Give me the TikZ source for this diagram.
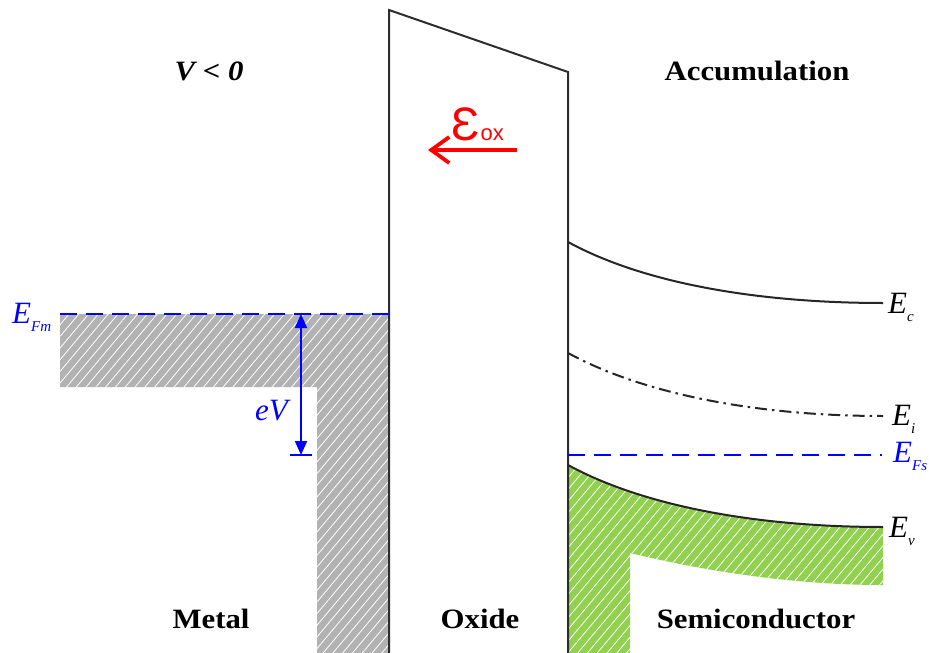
\documentclass[tikz,border=0pt]{standalone}
\usepackage{fontspec}
\setmainfont{Liberation Serif}
\newfontfamily\arialf{Liberation Sans}
\newfontfamily\titlef[FakeStretch=1.1]{Liberation Serif}
\usetikzlibrary{arrows.meta,patterns.meta}
\definecolor{metalgray}{RGB}{178,178,178}
\definecolor{semigreen}{RGB}{146,208,80}
\definecolor{oxline}{RGB}{45,45,45}
\newcommand\ELab[2]{#1\raisebox{-0.28em}{\fontsize{15}{15}\selectfont #2}}
\begin{document}
\begin{tikzpicture}[x=1pt,y=-1pt,
 title/.style={font=\titlef\bfseries\fontsize{28}{28}\selectfont, anchor=base, inner sep=0},
 elab/.style={anchor=base west, inner sep=0, font=\fontsize{31}{31}\selectfont\itshape},
 band/.style={line width=2pt, black!85},
 oxwall/.style={line width=2pt, oxline},
 hatch/.style={pattern={Lines[angle=50,distance=7.5pt,line width=0.8pt]}, pattern color=white},
 fermi/.style={blue, line width=2pt, dash pattern=on 17pt off 9pt},
]
\useasboundingbox (0,0) rectangle (929,653);
% coordinates
\coordinate (oxTL) at (389,10);
\coordinate (oxTR) at (568,72);
\coordinate (oxBL) at (389,653);
\coordinate (oxBR) at (568,653);
% metal region
\def\metalpath{(60,314) -- (389,314) -- (389,653) -- (317,653) -- (317,387) -- (60,387) -- cycle}
\fill[metalgray] \metalpath;
\fill[hatch] \metalpath;
% semiconductor valence region
\def\semipath{(568,465) .. controls (645,507) and (760,527) .. (883,527) -- (883,585) .. controls (790,585) and (700,570) .. (630,553) -- (630,653) -- (568,653) -- cycle}
\fill[semigreen] \semipath;
\fill[hatch] \semipath;
% oxide
\draw[oxwall] (oxBL) -- (oxTL) -- (oxTR) -- (oxBR);
% bands
\coordinate (ecA) at (568,242); \coordinate (ecB) at (883,303);
\coordinate (eiA) at (568,353); \coordinate (eiB) at (883,416);
\coordinate (evA) at (568,465); \coordinate (evB) at (883,527);
\draw[band] (ecA) .. controls (645,284) and (760,303) .. (ecB);
\draw[band, dash pattern=on 12pt off 5pt on 2.5pt off 5pt] (eiA) .. controls (645,395) and (760,416) .. (eiB);
\draw[band] (evA) .. controls (645,507) and (760,527) .. (evB);
% Fermi levels
\coordinate (efmA) at (60,314); \coordinate (efmB) at (389,314);
\coordinate (efsA) at (568,455); \coordinate (efsB) at (882,455);
\draw[fermi] (efmA) -- (efmB);
\draw[fermi] (efsA) -- (efsB);
% eV arrow
\coordinate (evTop) at (301,314);
\coordinate (evBot) at (301,455);
\coordinate (tickL) at (290,455);
\coordinate (tickR) at (312,455);
\draw[blue, line width=2pt, {Triangle[length=14pt,width=12pt]}-{Triangle[length=14pt,width=12pt]}] (evTop) -- (evBot);
\draw[blue, line width=2pt] (tickL) -- (tickR);
\node[elab, blue] (eV) at (255,420) {eV};
% field arrow
\coordinate (fA) at (517,150);
\coordinate (fB) at (428,150);
\draw[red, line width=3.8pt, -{Straight Barb[length=18pt,width=26pt]}] (fA) -- (fB);
\node[red, anchor=base west, inner sep=0, font=\arialf] (eox) at (451,140) {\fontsize{47}{47}\selectfont Ɛ\kern1pt\fontsize{22}{22}\selectfont ox};
% level labels
\node[elab, blue] (lEFm) at (12,323) {\ELab{E}{Fm}};
\node[elab] (lEc) at (888,313) {\ELab{E}{c}};
\node[elab] (lEi) at (892,425) {\ELab{E}{i}};
\node[elab, blue] (lEFs) at (893,462) {\ELab{E}{Fs}};
\node[elab] (lEv) at (889,537) {\ELab{E}{v}};
% titles
\node[title] (tV) at (209,80) {\itshape V < 0};
\node[title] (tAcc) at (757,80) {Accumulation};
\node[title] (tMetal) at (211,628) {Metal};
\node[title] (tOx) at (480,628) {Oxide};
\node[title] (tSemi) at (756,628) {Semiconductor};
\end{tikzpicture}
\end{document}
